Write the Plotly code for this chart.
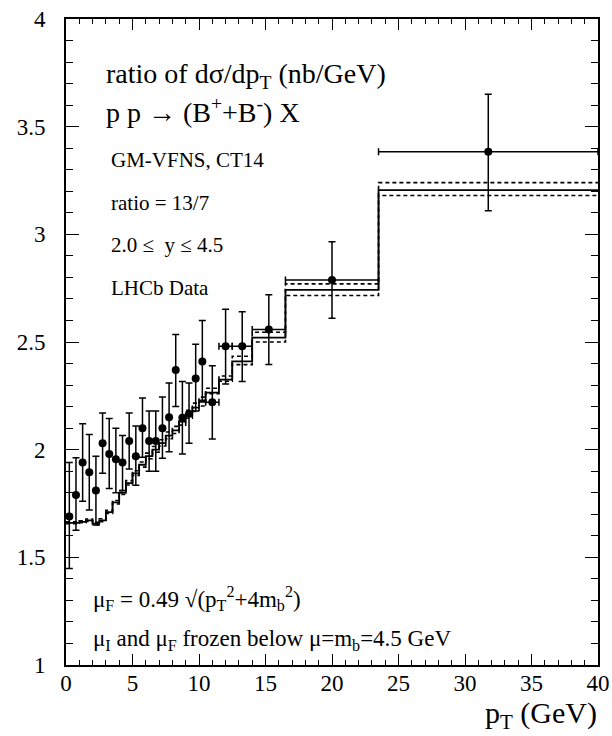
import plotly.graph_objects as go

# ---- data ----
bin_edges = [0, 0.5, 1, 1.5, 2, 2.5, 3, 3.5, 4, 4.5, 5, 5.5, 6, 6.5, 7, 7.5, 8, 8.5, 9, 9.5,
             10, 10.5, 11.5, 12.5, 14, 16.5, 23.5, 40]
theory_central = [1.66, 1.66, 1.665, 1.672, 1.657, 1.672, 1.71, 1.755, 1.80, 1.845, 1.89, 1.93,
                  1.97, 2.00, 2.03, 2.065, 2.09, 2.13, 2.163, 2.195, 2.222, 2.265, 2.325, 2.41,
                  2.52, 2.742, 3.205]
theory_upper = [1.665, 1.665, 1.67, 1.678, 1.663, 1.679, 1.718, 1.764, 1.81, 1.856, 1.902, 1.943,
                1.984, 2.015, 2.046, 2.082, 2.108, 2.149, 2.183, 2.216, 2.244, 2.285, 2.342, 2.434,
                2.545, 2.77, 3.24]
theory_lower = [1.656, 1.656, 1.661, 1.667, 1.652, 1.666, 1.704, 1.748, 1.792, 1.836, 1.88, 1.919,
                1.958, 1.988, 2.017, 2.051, 2.075, 2.114, 2.146, 2.177, 2.203, 2.26, 2.318, 2.395,
                2.50, 2.716, 3.18]

data_pt = [0.25, 0.75, 1.25, 1.75, 2.25, 2.75, 3.25, 3.75, 4.25, 4.75, 5.25, 5.75, 6.25, 6.75,
           7.25, 7.75, 8.25, 8.75, 9.25, 9.75, 10.25, 11, 12, 13.25, 15.25, 20, 31.75]
data_pt_err = [0] * 21 + [0.5, 0.5, 0.75, 1.25, 3.5, 8.25]
data_ratio = [1.69, 1.79, 1.94, 1.895, 1.81, 2.03, 1.98, 1.955, 1.94, 2.04, 1.97, 2.10, 2.04,
              2.04, 2.10, 2.15, 2.37, 2.148, 2.167, 2.33, 2.41, 2.22, 2.48, 2.48, 2.558, 2.788, 3.383]
data_err_up = [0.25, 0.173, 0.18, 0.175, 0.16, 0.14, 0.165, 0.145, 0.126, 0.13, 0.14, 0.14, 0.14,
               0.14, 0.145, 0.16, 0.165, 0.169, 0.143, 0.16, 0.19, 0.17, 0.172, 0.161, 0.162, 0.178, 0.267]
data_err_down = [0.242, 0.164, 0.18, 0.175, 0.16, 0.14, 0.16, 0.155, 0.13, 0.13, 0.135, 0.135, 0.14,
                 0.14, 0.14, 0.16, 0.17, 0.168, 0.137, 0.15, 0.18, 0.17, 0.175, 0.163, 0.163, 0.178, 0.273]

x_ticks = [0, 5, 10, 15, 20, 25, 30, 35, 40]
y_ticks = [1, 1.5, 2, 2.5, 3, 3.5, 4]
y_tick_labels = ["1", "1.5", "2", "2.5", "3", "3.5", "4"]

FONT = "Liberation Serif, Times New Roman, serif"

fig = go.Figure()

def hist_trace(vals, dash, width):
    return go.Scatter(x=bin_edges, y=vals + [vals[-1]], mode="lines", line_shape="hv",
                      line=dict(color="black", width=width, dash=dash), showlegend=False,
                      hoverinfo="skip")

fig.add_trace(hist_trace(theory_upper, "4px,3px", 1.6))
fig.add_trace(hist_trace(theory_lower, "4px,3px", 1.6))
fig.add_trace(hist_trace(theory_central, "solid", 1.8))

fig.add_trace(go.Scatter(
    x=data_pt, y=data_ratio, mode="markers",
    marker=dict(color="black", size=8, symbol="circle"),
    error_y=dict(type="data", symmetric=False, array=data_err_up, arrayminus=data_err_down,
                 color="black", thickness=1.5, width=3.5),
    error_x=dict(type="data", array=data_pt_err, color="black", thickness=1.5, width=3.5),
    showlegend=False))

L, R, T, B = 66, 14, 19, 71
W, H = 612, 736
pw, ph = W - L - R, H - T - B

def px(x):
    return (x - L) / pw

def py(y):
    return (H - B - y) / ph

annotations = [
    dict(text="ratio of dσ/dp<sub>T</sub> (nb/GeV)", x=px(104), y=py(75), size=28),
    dict(text="p p → (B<sup>+</sup>+B<sup>-</sup>) X", x=px(104), y=py(111), size=28),
    dict(text="GM-VFNS, CT14", x=px(109), y=py(160), size=21),
    dict(text="ratio = 13/7", x=px(109), y=py(203), size=21),
    dict(text="2.0 ≤  y ≤ 4.5", x=px(109), y=py(245), size=21),
    dict(text="LHCb Data", x=px(109), y=py(288), size=21),
    dict(text="μ<sub>F</sub> = 0.49 √(p<sub>T</sub><sup>2</sup>+4m<sub>b</sub><sup>2</sup>)",
         x=px(91), y=py(598), size=23),
    dict(text="μ<sub>I</sub> and μ<sub>F</sub> frozen below μ=m<sub>b</sub>=4.5 GeV",
         x=px(91), y=py(640), size=23),
]
for a in annotations:
    fig.add_annotation(text=a["text"], x=a["x"], y=a["y"], xref="paper", yref="paper",
                       xanchor="left", yanchor="middle", showarrow=False,
                       font=dict(family=FONT, size=a["size"], color="black"))

fig.add_annotation(text="p<sub>T</sub> (GeV)", x=1.0, y=py(735), xref="paper", yref="paper",
                   xanchor="right", yanchor="bottom", showarrow=False, borderpad=0,
                   font=dict(family=FONT, size=30, color="black"))

axis_common = dict(showgrid=False, zeroline=False, showline=True, linecolor="black",
                   linewidth=2, mirror="ticks", ticks="inside", tickcolor="black",
                   tickwidth=1.3, automargin=False,
                   tickfont=dict(family=FONT, size=23, color="black"))

fig.update_layout(
    width=W, height=H,
    margin=dict(l=L, r=R, t=T, b=B),
    paper_bgcolor="white", plot_bgcolor="white",
    xaxis=dict(range=[0, 40], tickvals=x_ticks, ticklen=11, ticklabelstandoff=-4,
               minor=dict(dtick=1, ticklen=5, ticks="inside", tickcolor="black", tickwidth=1.2),
               **axis_common),
    yaxis=dict(range=[1, 4], tickvals=y_ticks, ticktext=y_tick_labels, ticklen=13,
               ticklabelstandoff=14,
               minor=dict(dtick=0.1, tick0=1, ticklen=7, ticks="inside", tickcolor="black", tickwidth=1.2),
               **axis_common),
)

fig.write_html("out.html", config={"displayModeBar": False},
               post_script="document.body.style.margin='0px';document.body.style.overflow='hidden';")
